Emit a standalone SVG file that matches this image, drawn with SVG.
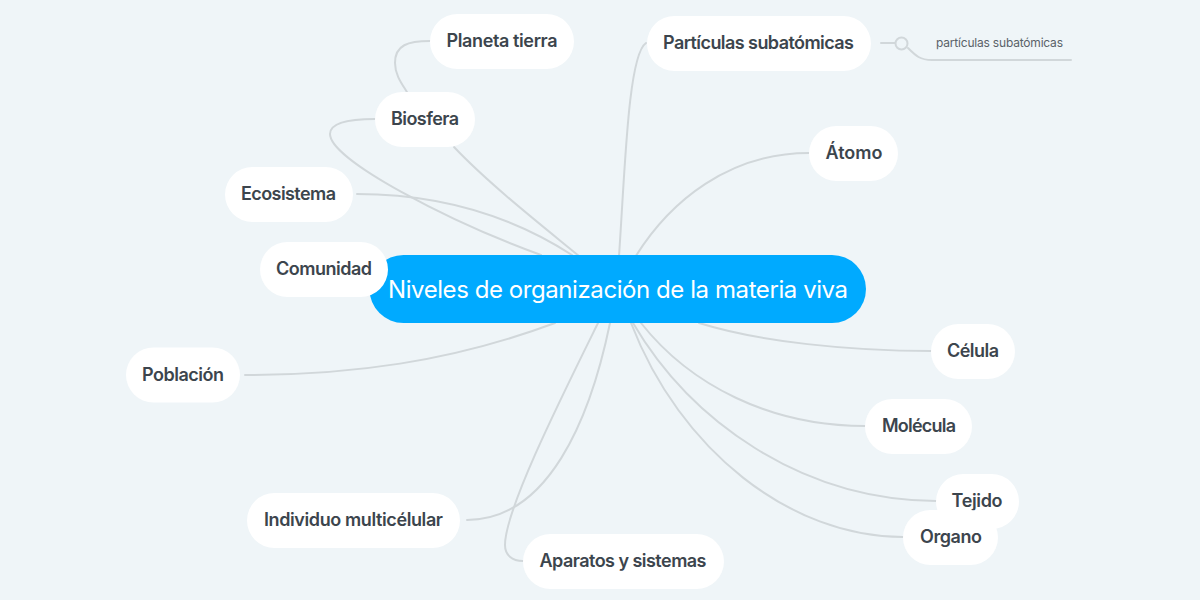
<svg xmlns="http://www.w3.org/2000/svg" width="1200" height="600" viewBox="0 0 1200 600">
<style>
.n{fill:#fff}
.t{font-family:"Inter","Liberation Sans",sans-serif;font-weight:600;font-size:18px;fill:#3c454d;text-anchor:middle}
.c{fill:none;stroke:#d1d7da;stroke-width:2;stroke-linecap:round}
</style>
<rect width="1200" height="600" fill="#eff5f8"/>
<g id="connectors" class="c">
<path d="M430 41C408 41 395 45 395 63C395 75 402 84 407 92"/>
<path d="M375 119C350 119 330 122 330 134C330 160 450 222 541 255"/>
<path d="M454 147C490 185 545 228 579 256"/>
<path d="M357 194C440 194 510 215 572 255"/>
<path d="M646 43C628 55 625 170 619 256"/>
<path d="M809 153C730 153 670 200 634 259"/>
<path d="M699 323C760 342 850 351 931 351"/>
<path d="M641 323C690 385 770 426 865 426"/>
<path d="M633 323C690 420 800 500 936 501"/>
<path d="M631 323C680 450 790 537 903 537"/>
<path d="M555 323C450 362 350 375 245 375"/>
<path d="M610 323C590 420 548 520 467 520"/>
<path d="M598 323C560 400 505 510 505 545C505 555 512 561 523 561"/>
<path d="M881 43H895M908 48C916 56 920 60 932 60H1071"/>
<circle cx="901.500" cy="43.500" r="6" fill="none"/>
</g>
<g id="node-center"><rect x="369.500" y="255" width="496.500" height="68" rx="34" fill="#00aaff"/><text x="618" y="298" font-family="Inter,'Liberation Sans',sans-serif" font-size="24" fill="#fff" text-anchor="middle" textLength="460">Niveles de organización de la materia viva</text></g>
<g id="node-planeta"><rect class="n" x="430" y="14" width="144" height="55" rx="27.500"/><text class="t" x="502" y="47" textLength="111">Planeta tierra</text></g>
<g id="node-biosfera"><rect class="n" x="375" y="92" width="100" height="55" rx="27.500"/><text class="t" x="425" y="125" textLength="68">Biosfera</text></g>
<g id="node-ecosistema"><rect class="n" x="225" y="167" width="128" height="55" rx="27.500"/><text class="t" x="288.500" y="200" textLength="95">Ecosistema</text></g>
<g id="node-comunidad"><rect class="n" x="260" y="242" width="128" height="55" rx="27.500"/><text class="t" x="324" y="275" textLength="96">Comunidad</text></g>
<g id="node-poblacion"><rect class="n" x="126" y="347.500" width="114" height="55" rx="27.500"/><text class="t" x="183" y="381" textLength="82">Población</text></g>
<g id="node-individuo"><rect class="n" x="247" y="493" width="213" height="55" rx="27.500"/><text class="t" x="353.500" y="526" textLength="179">Individuo multicélular</text></g>
<g id="node-aparatos"><rect class="n" x="523" y="534" width="201" height="55" rx="27.500"/><text class="t" x="623" y="567" textLength="167">Aparatos y sistemas</text></g>
<g id="node-particulas"><rect class="n" x="647" y="16" width="224" height="55" rx="27.500"/><text class="t" x="758.500" y="49" textLength="191">Partículas subatómicas</text></g>
<g id="node-subatomicas"><text x="999.500" y="47" font-family="Inter,'Liberation Sans',sans-serif" font-size="12" fill="#5a6268" text-anchor="middle" textLength="127">partículas subatómicas</text></g>
<g id="node-atomo"><rect class="n" x="809" y="126" width="89" height="55" rx="27.500"/><text class="t" x="854" y="159" textLength="57">Átomo</text></g>
<g id="node-celula"><rect class="n" x="931" y="324" width="84" height="55" rx="27.500"/><text class="t" x="973" y="357" textLength="52">Célula</text></g>
<g id="node-molecula"><rect class="n" x="865" y="399" width="107" height="55" rx="27.500"/><text class="t" x="919" y="432" textLength="74">Molécula</text></g>
<g id="node-tejido"><rect class="n" x="936" y="474" width="83" height="55" rx="27.500"/><text class="t" x="977" y="507" textLength="51">Tejido</text></g>
<g id="node-organo"><rect class="n" x="903" y="510" width="95" height="55" rx="27.500"/><text class="t" x="951" y="543" textLength="62">Organo</text></g>
</svg>
